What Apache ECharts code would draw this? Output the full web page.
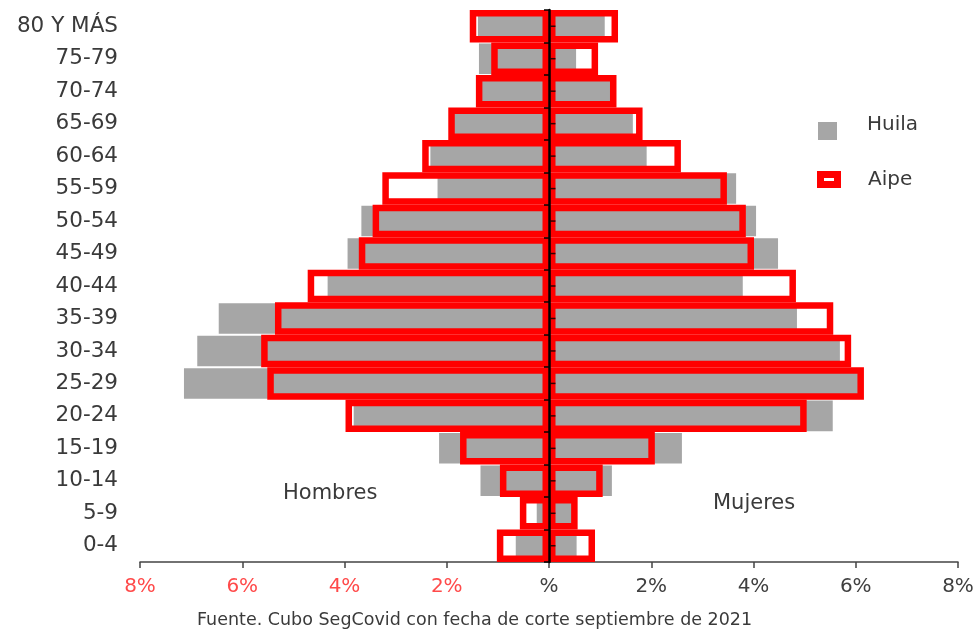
<!DOCTYPE html>
<html>
<head>
<meta charset="utf-8">
<script src="https://cdn.jsdelivr.net/npm/echarts@6/dist/echarts.min.js"></script>
<style>
html,body{margin:0;padding:0;background:#fff;}
#chart{width:977px;height:636px;}
</style>
</head>
<body>
<div id="chart"></div>
<script>
// Age groups, bottom to top
var categories = ['0-4','5-9','10-14','15-19','20-24','25-29','30-34','35-39','40-44','45-49','50-54','55-59','60-64','65-69','70-74','75-79','80 Y MÁS'];
// Percentages (men shown to the left)
var menHuila   = [0.65,0.24,1.34,2.15,3.82,7.14,6.88,6.46,4.33,3.94,3.67,2.18,2.32,1.90,1.40,1.37,1.39];
var womenHuila = [0.54,0.48,1.23,2.60,5.55,6.05,5.69,4.85,3.79,4.48,4.05,3.66,1.91,1.64,1.26,0.53,1.09];
var menAipe    = [1.02,0.57,0.96,1.74,3.98,5.51,5.63,5.36,4.72,3.72,3.45,3.26,2.48,1.97,1.43,1.13,1.55];
var womenAipe  = [0.90,0.56,1.05,2.07,5.04,6.16,5.91,5.56,4.83,4.01,3.85,3.48,2.58,1.83,1.32,0.96,1.35];
var xTickLabels = ['8%','6%','4%','2%','%','2%','4%','6%','8%'];
var sideLabels = ['Hombres','Mujeres'];
var legendNames = ['Huila','Aipe'];
var sourceText = 'Fuente. Cubo SegCovid con fecha de corte septiembre de 2021';

var FONT = "'DejaVu Sans', 'Liberation Sans', sans-serif";
var GRAY = '#a6a6a6';
var RED = '#ff0000';
var TEXT = '#3a3a3a';

function neg(arr){ return arr.map(function(v){ return -v; }); }

var chart = echarts.init(document.getElementById('chart'), null, {renderer:'canvas'});
chart.setOption({
  animation: false,
  backgroundColor: '#fff',
  grid: {left: 140, right: 19, top: 10, bottom: 74, containLabel: false},
  xAxis: {
    type: 'value',
    min: -8, max: 8, interval: 2,
    splitLine: {show: false},
    axisLine: {show: true, onZero: false, lineStyle: {color: '#444', width: 1.5}},
    axisTick: {show: true, length: 6, lineStyle: {color: '#444', width: 1.5}},
    axisLabel: {
      margin: 15,
      fontFamily: FONT,
      fontSize: 20,
      formatter: function(v){ return xTickLabels[Math.round((v + 8) / 2)]; },
      color: function(v){ return Number(v) < 0 ? '#ff4a4a' : '#404040'; }
    }
  },
  yAxis: [
    {
      type: 'category', data: categories, position: 'left',
      axisLine: {show: false, onZero: false},
      axisTick: {show: false},
      axisLabel: {margin: 22, fontFamily: FONT, fontSize: 21.5, color: TEXT}
    },
    {
      type: 'category', data: categories, position: 'left', z: 10,
      axisLine: {show: true, onZero: true, lineStyle: {color: '#000', width: 2.5}},
      axisTick: {show: true, length: 5, lineStyle: {color: '#000', width: 1.5}},
      axisLabel: {show: false}
    }
  ],
  series: [
    {name: legendNames[0], type: 'bar', yAxisIndex: 0, stack: 'huila', data: neg(menHuila),
     barCategoryGap: '6%', itemStyle: {color: GRAY}, z: 2, clip: false},
    {name: legendNames[0], type: 'bar', yAxisIndex: 0, stack: 'huila', data: womenHuila,
     barCategoryGap: '6%', itemStyle: {color: GRAY}, z: 2, clip: false},
    {name: legendNames[1], type: 'bar', yAxisIndex: 1, stack: 'aipe', data: neg(menAipe),
     barCategoryGap: '0%', itemStyle: {color: 'rgba(0,0,0,0)', borderColor: RED, borderWidth: 6.5}, z: 3, clip: false},
    {name: legendNames[1], type: 'bar', yAxisIndex: 1, stack: 'aipe', data: womenAipe,
     barCategoryGap: '0%', itemStyle: {color: 'rgba(0,0,0,0)', borderColor: RED, borderWidth: 6.5}, z: 3, clip: false},
    {name: 'ticks', type: 'scatter', yAxisIndex: 1, silent: true, z: 11,
     data: categories.map(function(c){ return [0, c]; }),
     symbol: 'rect', symbolSize: [5, 1.5], symbolOffset: [4, 0],
     itemStyle: {color: '#000'}}
  ],
  graphic: [
    {type: 'rect', left: 818, top: 122, shape: {width: 19, height: 18}, style: {fill: GRAY}},
    {type: 'text', left: 867, top: 115, style: {text: legendNames[0], font: '20px ' + FONT, fill: TEXT}},
    {type: 'rect', x: 820.5, y: 174.5, shape: {width: 17, height: 10}, style: {fill: '#fff', stroke: RED, lineWidth: 7}},
    {type: 'text', left: 868, top: 170, style: {text: legendNames[1], font: '20px ' + FONT, fill: TEXT}},
    {type: 'text', left: 283, top: 483, style: {text: sideLabels[0], font: '21px ' + FONT, fill: TEXT}},
    {type: 'text', left: 713, top: 493, style: {text: sideLabels[1], font: '21px ' + FONT, fill: TEXT}},
    {type: 'text', left: 197, top: 611, style: {text: sourceText, font: '17.5px ' + FONT, fill: TEXT}}
  ]
});
</script>
</body>
</html>
